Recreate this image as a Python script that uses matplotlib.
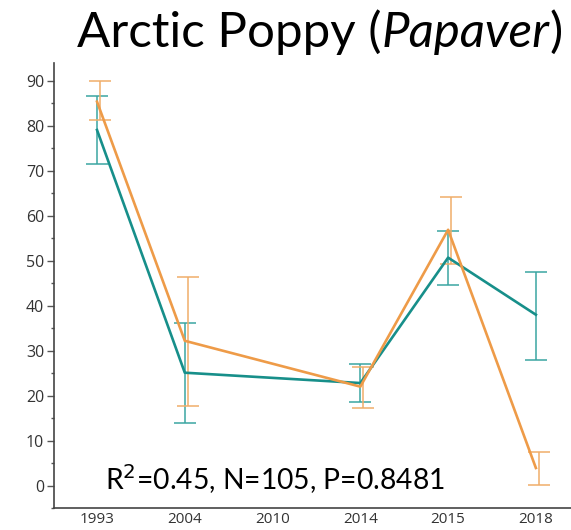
import matplotlib
matplotlib.use("Agg")
import matplotlib.pyplot as plt
from matplotlib.ticker import MultipleLocator
import numpy as np

years = ["1993", "2004", "2010", "2014", "2015", "2018"]
teal_mean = [79.1, 25.1, np.nan, 22.8, 50.7, 38.0]
teal_low = [71.6, 14.0, np.nan, 18.6, 44.6, 28.0]
teal_high = [86.7, 36.1, np.nan, 27.0, 56.7, 47.4]
orange_mean = [85.4, 32.2, np.nan, 22.0, 56.9, 3.9]
orange_low = [81.3, 17.8, np.nan, 17.2, 49.3, 0.1]
orange_high = [90.0, 46.3, np.nan, 26.4, 64.3, 7.5]

teal_line = "#178f8a"
teal_err = "#3aa5a2"
orange_line = "#ee9b48"
orange_err = "#f0ad6a"

fig = plt.figure(figsize=(5.71, 5.30), dpi=100)
ax = fig.add_axes([54/571, 1-508/530, 1-54/571, (508-63)/530])

x = np.arange(len(years))
tm = np.array(teal_mean); om = np.array(orange_mean)
valid = ~np.isnan(tm)

ax.errorbar(x[valid], tm[valid],
            yerr=[tm[valid]-np.array(teal_low)[valid], np.array(teal_high)[valid]-tm[valid]],
            fmt="none", ecolor=teal_err, elinewidth=1.1, capsize=8, capthick=1.1, zorder=2)
ax.errorbar(x[valid]+0.035, om[valid],
            yerr=[om[valid]-np.array(orange_low)[valid], np.array(orange_high)[valid]-om[valid]],
            fmt="none", ecolor=orange_err, elinewidth=1.1, capsize=8, capthick=1.1, zorder=2)
ax.plot(x[valid], tm[valid], color=teal_line, lw=1.9, zorder=3)
ax.plot(x[valid], om[valid], color=orange_line, lw=1.9, zorder=3)

ax.set_xlim(-0.49, 5.40)
ax.set_ylim(-5, 94)
ax.set_xticks(x)
ax.set_xticklabels(years)
ax.yaxis.set_major_locator(MultipleLocator(10))
ax.yaxis.set_minor_locator(MultipleLocator(5))
ax.set_yticks(np.arange(0, 91, 10))

for s in ["top", "right"]:
    ax.spines[s].set_visible(False)
for s in ["left", "bottom"]:
    ax.spines[s].set_color("#444444")
    ax.spines[s].set_linewidth(1.2)

ax.tick_params(axis="y", which="major", length=5, width=1, color="#555555",
               labelsize=11.5, labelcolor="#333333", pad=2)
ax.tick_params(axis="y", which="minor", length=2.5, width=1, color="#555555")
ax.tick_params(axis="x", length=0, labelsize=11, labelcolor="#333333", pad=3)
for lab in ax.get_xticklabels() + ax.get_yticklabels():
    lab.set_family("Open Sans")

TS = 35.5
ty = 1-47/530
t1 = fig.text(77/571, ty, "Arctic Poppy (", fontsize=TS, family="Lato", va="baseline", ha="left")
fig.canvas.draw()
r = fig.canvas.get_renderer()
bb = t1.get_window_extent(renderer=r)
t2 = fig.text(bb.x1/fig.bbox.width, ty, "Papaver", fontsize=TS, family="Lato",
              style="italic", va="baseline", ha="left")
bb2 = t2.get_window_extent(renderer=r)
fig.text(bb2.x1/fig.bbox.width, ty, ")", fontsize=TS, family="Lato", va="baseline", ha="left")

ax.text(105/571, 1-490/530, r"R$^2$=0.45, N=105, P=0.8481", transform=fig.transFigure,
        fontsize=20.3, family="Lato", va="baseline", ha="left")

fig.savefig("out.png", dpi=100)
